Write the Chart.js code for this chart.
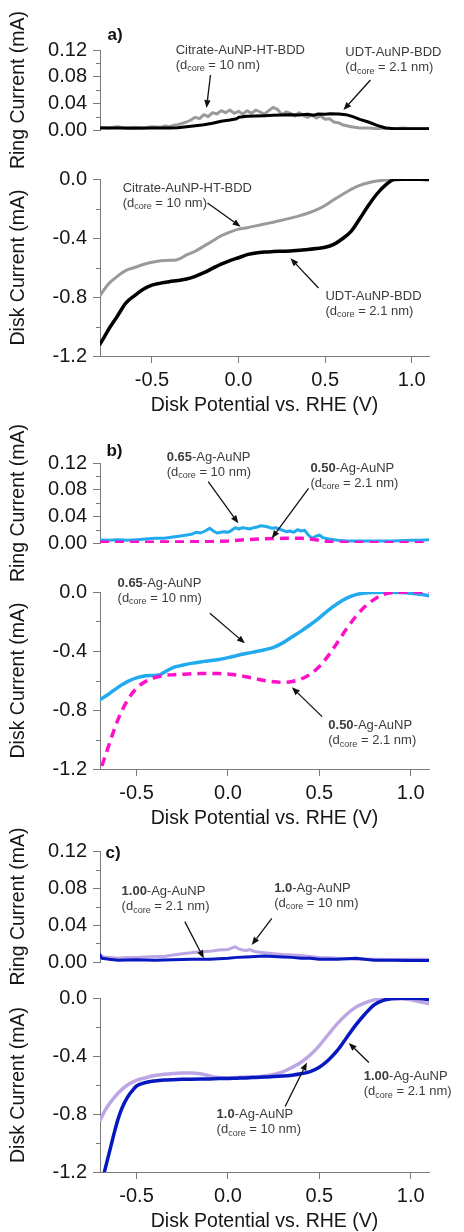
<!DOCTYPE html>
<html>
<head>
<meta charset="utf-8">
<title>RRDE ring and disk currents</title>
<script src="https://cdn.jsdelivr.net/npm/chart.js@4.4.1/dist/chart.umd.min.js"></script>
<style>
  html, body { margin: 0; padding: 0; background: #fff; overflow: hidden; }
  #page { position: relative; width: 464px; height: 1232px; }
  #page canvas { position: absolute; left: 0; }
</style>
</head>
<body>
<div id="page">
  <canvas id="diskA" width="464" height="278" style="top:140px"></canvas>
  <canvas id="ringA" width="464" height="175" style="top:0px"></canvas>
  <canvas id="diskB" width="464" height="271" style="top:560px"></canvas>
  <canvas id="ringB" width="464" height="170" style="top:415px"></canvas>
  <canvas id="diskC" width="464" height="254" style="top:980px"></canvas>
  <canvas id="ringC" width="464" height="170" style="top:820px"></canvas>
</div>
<script>
// axis ticks
const xTicks = [-0.5, 0.0, 0.5, 1.0];
const ringTicks = [0, 0.04, 0.08, 0.12];
const ringMinor = [0.02, 0.06, 0.10];
const diskTicks = [-1.2, -0.8, -0.4, 0];
const diskMinor = [-1.0, -0.6, -0.2];

// a) [potential V, current mA]
const citrateRing = [[-0.80,0.004],[-0.75,0.003],[-0.70,0.005],[-0.65,0.003],[-0.60,0.004],[-0.55,0.003],[-0.50,0.005],[-0.45,0.004],
  [-0.425,0.006],[-0.40,0.005],[-0.375,0.007],[-0.35,0.008],[-0.325,0.010],[-0.30,0.012],[-0.275,0.015],[-0.25,0.019],[-0.225,0.017],
  [-0.20,0.023],[-0.175,0.020],[-0.15,0.026],[-0.125,0.024],[-0.10,0.029],[-0.075,0.026],[-0.05,0.030],[-0.025,0.025],[0.00,0.028],
  [0.025,0.024],[0.05,0.029],[0.075,0.025],[0.10,0.030],[0.125,0.027],[0.15,0.024],[0.175,0.029],[0.20,0.034],[0.225,0.031],[0.25,0.023],
  [0.275,0.027],[0.30,0.025],[0.325,0.021],[0.35,0.026],[0.375,0.022],[0.40,0.019],[0.425,0.023],[0.45,0.018],[0.475,0.021],[0.50,0.016],
  [0.525,0.017],[0.55,0.012],[0.575,0.011],[0.60,0.008],[0.65,0.005],[0.70,0.003],[0.75,0.003],[0.80,0.002],[0.85,0.003],[0.90,0.002],
  [0.95,0.003],[1.00,0.002],[1.05,0.002],[1.10,0.002]];
const udtRing = [[-0.80,0.003],[-0.70,0.003],[-0.60,0.0025],[-0.50,0.003],[-0.40,0.003],[-0.35,0.0035],[-0.30,0.005],[-0.25,0.0065],
  [-0.20,0.008],[-0.15,0.010],[-0.10,0.013],[-0.05,0.015],[-0.01,0.017],[0.00,0.019],[0.05,0.0205],[0.10,0.021],[0.15,0.0215],[0.20,0.022],
  [0.25,0.0225],[0.30,0.023],[0.35,0.0225],[0.40,0.0235],[0.43,0.022],[0.46,0.024],[0.50,0.0235],[0.53,0.0245],[0.58,0.024],[0.62,0.023],
  [0.66,0.020],[0.70,0.016],[0.75,0.012],[0.80,0.007],[0.85,0.003],[0.90,0.002],[1.00,0.002],[1.10,0.002]];
const citrateDisk = [[-0.80,-0.79],[-0.75,-0.71],[-0.70,-0.66],[-0.65,-0.62],[-0.60,-0.60],[-0.55,-0.58],[-0.50,-0.565],[-0.45,-0.555],
  [-0.40,-0.55],[-0.37,-0.55],[-0.33,-0.535],[-0.30,-0.515],[-0.25,-0.49],[-0.20,-0.455],[-0.15,-0.42],[-0.10,-0.385],[-0.05,-0.36],
  [0.00,-0.34],[0.05,-0.33],[0.10,-0.318],[0.15,-0.305],[0.20,-0.293],[0.25,-0.28],[0.30,-0.265],[0.35,-0.25],[0.40,-0.232],[0.45,-0.21],
  [0.50,-0.18],[0.55,-0.14],[0.60,-0.105],[0.65,-0.07],[0.70,-0.043],[0.75,-0.025],[0.80,-0.013],[0.85,-0.006],[0.90,-0.003],
  [0.95,-0.002],[1.00,-0.002],[1.05,-0.003],[1.10,-0.004]];
const udtDisk = [[-0.80,-1.12],[-0.77,-1.06],[-0.74,-1.00],[-0.70,-0.93],[-0.65,-0.84],[-0.60,-0.79],[-0.55,-0.748],[-0.50,-0.72],
  [-0.45,-0.706],[-0.40,-0.696],[-0.35,-0.688],[-0.30,-0.678],[-0.25,-0.66],[-0.20,-0.635],[-0.15,-0.606],[-0.10,-0.577],[-0.05,-0.553],
  [0.00,-0.534],[0.05,-0.513],[0.10,-0.501],[0.15,-0.495],[0.20,-0.492],[0.25,-0.49],[0.30,-0.488],[0.35,-0.483],[0.40,-0.478],
  [0.45,-0.471],[0.50,-0.463],[0.55,-0.443],[0.60,-0.405],[0.65,-0.355],[0.70,-0.27],[0.75,-0.18],[0.80,-0.10],[0.85,-0.04],
  [0.90,-0.003],[0.95,-0.001],[1.00,-0.002],[1.05,-0.002],[1.10,-0.003]];

// b)
const ag65Ring = [[-0.70,0.0045],[-0.65,0.004],[-0.60,0.005],[-0.55,0.004],[-0.50,0.005],[-0.45,0.006],[-0.40,0.007],[-0.35,0.007],
  [-0.30,0.009],[-0.25,0.011],[-0.20,0.013],[-0.175,0.016],[-0.15,0.015],[-0.125,0.018],[-0.10,0.022],[-0.08,0.018],[-0.06,0.015],
  [-0.04,0.016],[-0.02,0.017],[0.00,0.016],[0.02,0.019],[0.04,0.023],[0.06,0.021],[0.08,0.023],[0.10,0.022],[0.12,0.021],[0.14,0.023],
  [0.16,0.024],[0.18,0.026],[0.20,0.025],[0.22,0.024],[0.24,0.022],[0.26,0.023],[0.28,0.021],[0.30,0.019],[0.32,0.017],[0.34,0.018],
  [0.36,0.016],[0.38,0.020],[0.40,0.018],[0.42,0.019],[0.44,0.012],[0.46,0.007],[0.48,0.010],[0.50,0.012],[0.52,0.008],[0.55,0.006],
  [0.60,0.004],[0.65,0.003],[0.70,0.003],[0.80,0.003],[0.90,0.003],[1.00,0.004],[1.05,0.004],[1.10,0.005]];
const ag50Ring = [[-0.70,0.001],[-0.50,0.001],[-0.30,0.0015],[-0.10,0.002],[0.00,0.003],[0.10,0.005],[0.20,0.0065],[0.30,0.007],
  [0.40,0.007],[0.45,0.006],[0.50,0.004],[0.55,0.002],[0.60,0.001],[0.80,0.0005],[1.10,0.0005]];
const ag65Disk = [[-0.70,-0.73],[-0.65,-0.69],[-0.60,-0.645],[-0.55,-0.608],[-0.50,-0.582],[-0.45,-0.568],[-0.40,-0.566],[-0.37,-0.56],
  [-0.35,-0.545],[-0.30,-0.512],[-0.25,-0.497],[-0.20,-0.484],[-0.15,-0.474],[-0.10,-0.466],[-0.05,-0.457],[0.00,-0.445],[0.05,-0.43],
  [0.10,-0.417],[0.15,-0.405],[0.20,-0.392],[0.25,-0.375],[0.30,-0.345],[0.35,-0.305],[0.40,-0.265],[0.45,-0.222],[0.50,-0.175],
  [0.55,-0.123],[0.60,-0.078],[0.65,-0.042],[0.70,-0.018],[0.75,-0.007],[0.80,-0.003],[0.85,-0.001],[0.90,-0.001],[0.95,-0.004],
  [1.00,-0.009],[1.05,-0.016],[1.10,-0.025]];
const ag50Disk = [[-0.69,-1.18],[-0.66,-1.07],[-0.63,-0.96],[-0.60,-0.86],[-0.55,-0.735],[-0.50,-0.652],[-0.45,-0.606],[-0.40,-0.58],
  [-0.35,-0.566],[-0.30,-0.561],[-0.25,-0.558],[-0.20,-0.555],[-0.15,-0.553],[-0.10,-0.552],[-0.05,-0.553],[0.00,-0.556],[0.05,-0.563],
  [0.10,-0.575],[0.15,-0.588],[0.20,-0.60],[0.25,-0.609],[0.30,-0.613],[0.35,-0.607],[0.40,-0.59],[0.45,-0.557],[0.50,-0.505],
  [0.55,-0.43],[0.60,-0.34],[0.65,-0.248],[0.70,-0.165],[0.75,-0.098],[0.80,-0.05],[0.85,-0.017],[0.90,-0.004],[0.95,-0.001],
  [1.00,0.0],[1.05,0.0],[1.10,0.0]];

// c)
const ag100Ring = [[-0.70,0.008],[-0.69,0.004],[-0.65,0.003],[-0.60,0.002],[-0.50,0.0025],[-0.40,0.002],[-0.30,0.0025],[-0.20,0.003],
  [-0.10,0.003],[0.00,0.004],[0.05,0.005],[0.10,0.0055],[0.15,0.006],[0.20,0.0065],[0.25,0.006],[0.30,0.0055],[0.35,0.005],[0.40,0.004],
  [0.45,0.004],[0.50,0.003],[0.55,0.003],[0.60,0.003],[0.70,0.004],[0.75,0.003],[0.80,0.002],[0.90,0.002],[1.00,0.0015],[1.10,0.0015]];
const ag10Ring = [[-0.70,0.006],[-0.65,0.005],[-0.60,0.004],[-0.55,0.005],[-0.50,0.005],[-0.45,0.0055],[-0.40,0.006],[-0.35,0.006],
  [-0.30,0.0075],[-0.25,0.009],[-0.20,0.010],[-0.15,0.011],[-0.10,0.0115],[-0.05,0.013],[0.00,0.0135],[0.02,0.015],[0.04,0.0165],
  [0.06,0.014],[0.08,0.013],[0.10,0.0125],[0.12,0.0135],[0.15,0.011],[0.20,0.010],[0.25,0.009],[0.30,0.008],[0.35,0.0075],[0.40,0.007],
  [0.45,0.006],[0.50,0.005],[0.55,0.0045],[0.60,0.004],[0.70,0.003],[0.80,0.003],[0.90,0.0028],[1.00,0.003],[1.10,0.003]];
const ag100Disk = [[-0.676,-1.20],[-0.66,-1.12],[-0.64,-1.02],[-0.62,-0.92],[-0.60,-0.83],[-0.58,-0.76],[-0.55,-0.685],[-0.52,-0.635],
  [-0.50,-0.607],[-0.45,-0.583],[-0.40,-0.572],[-0.35,-0.566],[-0.30,-0.563],[-0.25,-0.561],[-0.20,-0.56],[-0.15,-0.559],[-0.10,-0.558],
  [-0.05,-0.556],[0.00,-0.555],[0.05,-0.553],[0.10,-0.551],[0.15,-0.548],[0.20,-0.545],[0.25,-0.542],[0.30,-0.538],[0.35,-0.532],
  [0.40,-0.523],[0.45,-0.508],[0.50,-0.478],[0.55,-0.428],[0.60,-0.36],[0.65,-0.272],[0.70,-0.185],[0.75,-0.11],[0.80,-0.047],
  [0.85,-0.016],[0.90,-0.005],[0.95,-0.002],[1.00,-0.002],[1.05,-0.004],[1.10,-0.01]];
const ag10Disk = [[-0.70,-0.845],[-0.67,-0.77],[-0.64,-0.715],[-0.60,-0.655],[-0.55,-0.60],[-0.50,-0.568],[-0.45,-0.55],[-0.40,-0.535],
  [-0.35,-0.526],[-0.30,-0.52],[-0.25,-0.517],[-0.20,-0.517],[-0.15,-0.523],[-0.10,-0.537],[-0.05,-0.549],[0.00,-0.551],[0.05,-0.548],
  [0.10,-0.545],[0.15,-0.543],[0.20,-0.538],[0.25,-0.528],[0.30,-0.51],[0.35,-0.479],[0.40,-0.443],[0.45,-0.393],[0.50,-0.328],
  [0.55,-0.25],[0.60,-0.175],[0.65,-0.112],[0.70,-0.063],[0.75,-0.033],[0.80,-0.013],[0.85,-0.004],[0.90,-0.002],[0.95,-0.005],
  [1.00,-0.013],[1.05,-0.026],[1.10,-0.04]];

const FONT = '"Liberation Sans", Arial, sans-serif';
const axisColor = '#7a7a7a';
const textColor = '#161616';
const noteColor = '#3c3c3c';
Chart.defaults.font.family = FONT;

// label with a bold prefix and a "(d_core = ...)" second line
function drawNote(ctx, x, y, n) {
  ctx.fillStyle = noteColor;
  ctx.textAlign = 'left';
  ctx.textBaseline = 'middle';
  let cx = x;
  if (n.bold) {
    ctx.font = 'bold 13px ' + FONT;
    ctx.fillText(n.bold, cx, y);
    cx += ctx.measureText(n.bold).width;
  }
  ctx.font = '13px ' + FONT;
  ctx.fillText(n.name, cx, y);
  const y2 = y + 15;
  cx = x;
  ctx.fillText('(d', cx, y2);
  cx += ctx.measureText('(d').width;
  ctx.font = '9px ' + FONT;
  ctx.fillText('core', cx, y2 + 4);
  cx += ctx.measureText('core').width;
  ctx.font = '13px ' + FONT;
  ctx.fillText(' = ' + n.size + ')', cx, y2);
}

function drawArrow(ctx, x1, y1, x2, y2) {
  const ang = Math.atan2(y2 - y1, x2 - x1);
  const head = 8, half = 3.2;
  const bx = x2 - head * Math.cos(ang), by = y2 - head * Math.sin(ang);
  ctx.strokeStyle = '#111';
  ctx.fillStyle = '#111';
  ctx.lineWidth = 1.3;
  ctx.beginPath(); ctx.moveTo(x1, y1); ctx.lineTo(bx, by); ctx.stroke();
  ctx.beginPath();
  ctx.moveTo(x2, y2);
  ctx.lineTo(bx + half * Math.sin(ang), by - half * Math.cos(ang));
  ctx.lineTo(bx - half * Math.sin(ang), by + half * Math.cos(ang));
  ctx.closePath();
  ctx.fill();
}

// minor y ticks, panel letter and the arrow labels
const notePlugin = {
  id: 'notes',
  afterDraw(chart, args, opts) {
    const ctx = chart.ctx;
    const xs = chart.scales.x, ys = chart.scales.y;
    const left = chart.chartArea.left;
    ctx.save();
    ctx.strokeStyle = axisColor;
    ctx.lineWidth = 1;
    (opts.minor || []).forEach(v => {
      const py = Math.round(ys.getPixelForValue(v)) + 0.5;
      ctx.beginPath(); ctx.moveTo(left - 4, py); ctx.lineTo(left, py); ctx.stroke();
    });
    if (opts.letter) {
      ctx.fillStyle = '#111';
      ctx.font = 'bold 17px ' + FONT;
      ctx.textAlign = 'left';
      ctx.textBaseline = 'middle';
      ctx.fillText(opts.letter.text, xs.getPixelForValue(opts.letter.x), ys.getPixelForValue(opts.letter.y));
    }
    (opts.items || []).forEach(n => {
      drawArrow(ctx, xs.getPixelForValue(n.from[0]), ys.getPixelForValue(n.from[1]),
        xs.getPixelForValue(n.to[0]), ys.getPixelForValue(n.to[1]));
      drawNote(ctx, xs.getPixelForValue(n.x), ys.getPixelForValue(n.y), n);
    });
    ctx.restore();
  }
};

function buildChart(id, kind, xMin, series, pad, notes) {
  const ring = kind === 'ring';
  const datasets = series.map(s => ({
    data: s.pts.map(p => ({x: p[0], y: p[1]})),
    borderColor: s.color,
    borderWidth: s.width || 3,
    borderDash: s.dash || [],
    borderCapStyle: s.dash ? 'butt' : 'round',
    borderJoinStyle: 'round',
    pointRadius: 0,
    fill: false,
    tension: 0,
    cubicInterpolationMode: s.smooth ? 'monotone' : 'default'
  }));
  return new Chart(document.getElementById(id), {
    type: 'line',
    data: { datasets: datasets },
    options: {
      responsive: false,
      animation: false,
      events: [],
      layout: { padding: { left: 0, right: 35, top: pad.top, bottom: pad.bottom } },
      plugins: {
        legend: { display: false },
        tooltip: { enabled: false },
        notes: Object.assign({ minor: ring ? ringMinor : diskMinor }, notes)
      },
      scales: {
        x: {
          type: 'linear',
          min: xMin,
          max: 1.1,
          display: !ring,
          afterBuildTicks: s => { s.ticks = xTicks.map(v => ({ value: v })); },
          // the ring plots carry no x axis at all
          afterFit: s => { s.height = ring ? 0 : 62; },
          ticks: { font: { size: 20 }, color: textColor, padding: 5, maxRotation: 0, callback: v => v.toFixed(1) },
          grid: { drawOnChartArea: false, tickLength: 7, color: axisColor },
          border: { color: axisColor },
          title: { display: true, text: 'Disk Potential vs. RHE (V)', font: { size: 19.5 }, color: textColor,
                   padding: { top: 0, bottom: 1 } }
        },
        y: {
          type: 'linear',
          min: ring ? 0 : -1.2,
          max: ring ? 0.12 : 0,
          afterBuildTicks: s => { s.ticks = (ring ? ringTicks : diskTicks).map(v => ({ value: v })); },
          afterFit: s => { s.width = 100; },
          ticks: { font: { size: 20 }, color: textColor, padding: 6, autoSkip: false,
                   callback: v => v.toFixed(ring ? 2 : 1) },
          grid: { drawOnChartArea: false, tickLength: 7, color: axisColor },
          border: { color: axisColor },
          title: { display: true, text: ring ? 'Ring Current (mA)' : 'Disk Current (mA)', font: { size: 19.5 },
                   color: textColor, padding: { top: 7, bottom: 0 } }
        }
      }
    },
    plugins: [notePlugin]
  });
}

// a) citrate vs UDT capped AuNP
buildChart('ringA', 'ring', -0.8, [
  { pts: udtRing, color: '#000000', width: 3 },
  { pts: citrateRing, color: '#9a9a9a', width: 3 }
], { top: 50, bottom: 45 }, {
  letter: { text: 'a)', x: -0.756, y: 0.1425 },
  items: [
    { x: -0.363, y: 0.120, name: 'Citrate-AuNP-HT-BDD', size: '10 nm', from: [-0.162, 0.0825], to: [-0.185, 0.033] },
    { x: 0.617, y: 0.116, name: 'UDT-AuNP-BDD', size: '2.1 nm', from: [0.762, 0.075], to: [0.606, 0.030] }
  ]
});
buildChart('diskA', 'disk', -0.8, [
  { pts: udtDisk, color: '#000000', width: 3.5, smooth: true },
  { pts: citrateDisk, color: '#9a9a9a', width: 3, smooth: true }
], { top: 39, bottom: 0 }, {
  items: [
    { x: -0.669, y: -0.061, name: 'Citrate-AuNP-HT-BDD', size: '10 nm', from: [-0.179, -0.163], to: [0.012, -0.323] },
    { x: 0.502, y: -0.793, name: 'UDT-AuNP-BDD', size: '2.1 nm', from: [0.462, -0.739], to: [0.30, -0.538] }
  ]
});

// b) 0.65 and 0.50 Ag-AuNP
buildChart('ringB', 'ring', -0.7, [
  { pts: ag50Ring, color: '#ff10c8', width: 3.5, dash: [9, 6] },
  { pts: ag65Ring, color: '#22aaee', width: 3 }
], { top: 48, bottom: 42 }, {
  letter: { text: 'b)', x: -0.665, y: 0.138 },
  items: [
    { x: -0.335, y: 0.129, bold: '0.65', name: '-Ag-AuNP', size: '10 nm', from: [-0.108, 0.092], to: [0.057, 0.0295] },
    { x: 0.451, y: 0.1125, bold: '0.50', name: '-Ag-AuNP', size: '2.1 nm', from: [0.441, 0.082], to: [0.24, 0.007] }
  ]
});
buildChart('diskB', 'disk', -0.7, [
  { pts: ag50Disk, color: '#ff10c8', width: 3.5, dash: [9, 6], smooth: true },
  { pts: ag65Disk, color: '#22aaee', width: 3.5, smooth: true }
], { top: 32, bottom: 0 }, {
  items: [
    { x: -0.604, y: 0.061, bold: '0.65', name: '-Ag-AuNP', size: '10 nm', from: [-0.099, -0.144], to: [0.093, -0.348] },
    { x: 0.549, y: -0.902, bold: '0.50', name: '-Ag-AuNP', size: '2.1 nm', from: [0.515, -0.845], to: [0.35, -0.646] }
  ]
});

// c) 1.00 and 1.0 Ag-AuNP
buildChart('ringC', 'ring', -0.7, [
  { pts: ag100Ring, color: '#0818c0', width: 3 },
  { pts: ag10Ring, color: '#bca6e4', width: 3 }
], { top: 31, bottom: 28 }, {
  letter: { text: 'c)', x: -0.67, y: 0.118 },
  items: [
    { x: -0.582, y: 0.076, bold: '1.00', name: '-Ag-AuNP', size: '2.1 nm', from: [-0.236, 0.0436], to: [-0.132, 0.004] },
    { x: 0.253, y: 0.080, bold: '1.0', name: '-Ag-AuNP', size: '10 nm', from: [0.24, 0.0472], to: [0.13, 0.0184] }
  ]
});
buildChart('diskC', 'disk', -0.7, [
  { pts: ag100Disk, color: '#0818c0', width: 3.5, smooth: true },
  { pts: ag10Disk, color: '#bca6e4', width: 3.5, smooth: true }
], { top: 14, bottom: 0 }, {
  items: [
    { x: -0.062, y: -0.802, bold: '1.0', name: '-Ag-AuNP', size: '10 nm', from: [0.313, -0.748], to: [0.432, -0.445] },
    { x: 0.743, y: -0.539, bold: '1.00', name: '-Ag-AuNP', size: '2.1 nm', from: [0.771, -0.445], to: [0.661, -0.31] }
  ]
});
</script>
</body>
</html>
